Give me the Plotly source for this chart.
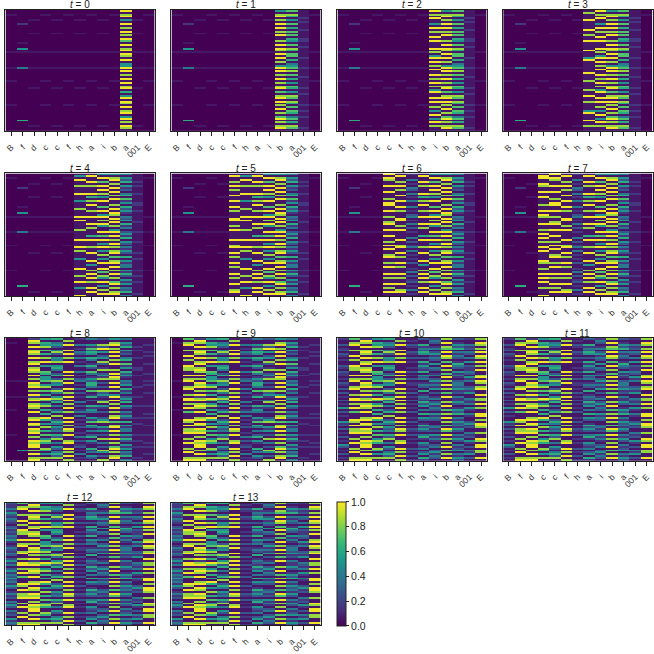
import plotly.graph_objects as go

ROWS = 64
X_LABELS = ["B", "f", "d", "c", "c", "f", "h", "a", "i", "b", "a", "001", "E"]
TIMES = list(range(14))
# digit code -> value in [0, 1]
LEVELS = [0.0, 0.06, 0.16, 0.27, 0.40, 0.52, 0.62, 0.72, 0.84, 0.98]

# ---- column patterns (one char per row, top to bottom) ----
BG_A = "00100000" "00000000" "00000010" "00000010" "00000100" "00000000" "00100000" "00000000"
BG_B = "00000100" "00001000" "00000010" "00000010" "00000000" "01000000" "00000000" "00000100"
F_EARLY = "00000002" "00000000" "01005010" "00000040" "00000000" "00000000" "00000000" "00600000"
F_LATE = "00000000" "00000000" "00000010" "00000010" "00000000" "00000000" "00000000" "00500000"

A0 = "91891519" "18191819" "71918919" "81915591" "91819191" "89161591" "98191891" "59181981"
A1 = "71861517" "16171716" "51718617" "71614571" "81716151" "76151871" "86171761" "47161871"
B1 = "51891819" "19181911" "81919819" "19181591" "91819181" "89171891" "91819181" "79181891"
I1 = "91819115" "19181191" "91119181" "59191819" "11918191" "81591191" "91181519" "15191811"
A7_1 = "18111911" "11911811" "91111911" "15911111" "19111811" "11811911" "81111591" "11911811"
H1 = "15191181" "11911151" "11811191" "91111811" "11911191" "81115111" "19111811" "91151119"
A7_2 = "19119181" "11916181" "91181191" "11918111" "61911181" "19111915" "11819191" "81191911"
I2 = "51917191" "91815191" "17191591" "81951191" "71915191" "51815191" "19171851" "91518191"
A2 = "41536152" "31461725" "16352143" "51624135" "26153142" "53161524" "41526315" "25143614"
F5_1 = "19118191" "81191191" "19181119" "91181911" "11911891" "19181191" "81119181" "19118911"
C4_1 = "91981191" "19111819" "91191181" "18911911" "91181919" "11891181" "91119181" "19181911"
H2 = "21141214" "31412141" "14121341" "21413121" "14131241" "41212131" "12141312" "31214121"
C3_1 = "19911981" "19119111" "81191981" "11911819" "19181191" "91111981" "18119191" "91181119"
D2 = "29819189" "81918918" "98191819" "89181928" "91898191" "18919819" "89181989" "91819189"
C3_2 = "51658171" "61819151" "17615571" "58171619" "71581616" "19615181" "61715861" "18615181"
C4_2 = "61453148" "31548156" "41361384" "51384158" "36141361" "81364153" "41638141" "53146381"
F5_2 = "18191191" "91819111" "19191819" "11918191" "91819181" "19191819" "81911891" "19181918"
A7_2b = "41152736" "51641263" "17412536" "64171261" "31162541" "15271641" "41361521" "16241531"
I2b = "31183915" "13518312" "81352813" "13183521" "38152131" "13581152" "51318141" "31851318"
O1 = "11112121" "11211112" "21121111" "12111121" "11121111" "12112111" "11211211" "21111121"
E_FAINT = "11121112" "12111211" "11211121" "21112111" "11121112" "12111211" "11211121" "21112111"
F1 = "71891181" "19181198" "81191891" "18911819" "91819171" "11981918" "89118191" "18191189"
B0 = "21131231" "32121132" "13221213" "21313121" "31215131" "21152313" "12131215" "31213121"
B0b = "32242532" "43213423" "24352124" "32431352" "41352435" "34253124" "23142531" "42315243"
H3 = "12132113" "21312112" "13121312" "21213121" "31212131" "12131213" "21312121" "13121312"
A7_3 = "31162436" "51316253" "26153412" "43161243" "26351416" "15312635" "31462153" "24135162"
I3 = "24312413" "52431514" "31241352" "42513124" "13524315" "24311342" "31524213" "41352431"
B3 = "81918719" "19817191" "81719181" "91817191" "18191718" "19181719" "71918181" "91718191"
A3 = "31253614" "24312643" "15242134" "43523142" "25312536" "14253425" "31425314" "23514253"
O2 = "21142314" "31415132" "24315241" "13425114" "32415214" "21135231" "14231521" "31425131"
E2 = "81981819" "19819181" "91189198" "18911918" "81918119" "91819981" "18119819" "91881191"

# ---- panels: 13 column patterns each ----
PANEL_T0 = [BG_A, F_EARLY, BG_B, BG_A, BG_B, BG_A, BG_B, BG_A, BG_B, BG_A, A0, BG_B, BG_A]
PANEL_T1 = [BG_A, F_EARLY, BG_B, BG_A, BG_B, BG_A, BG_B, BG_A, BG_B, B1, A1, O1, BG_A]
PANEL_T2 = [BG_A, F_EARLY, BG_B, BG_A, BG_B, BG_A, BG_B, BG_A, I1, B1, A1, O1, BG_A]
PANEL_T3 = [BG_A, F_EARLY, BG_B, BG_A, BG_B, BG_A, BG_B, A7_1, I1, B1, A1, O1, BG_A]
PANEL_T4 = [BG_A, F_EARLY, BG_B, BG_A, BG_B, BG_A, H1, A7_2, I2, B1, A2, O1, BG_A]
PANEL_T5 = [BG_A, F_EARLY, BG_B, BG_A, BG_B, F5_1, H1, A7_2, I2, B1, A2, O1, BG_A]
PANEL_T6 = [BG_A, F_EARLY, BG_B, BG_A, C4_1, F5_1, H2, A7_2, I2, B1, A2, O1, BG_A]
PANEL_T7 = [BG_A, F_EARLY, BG_B, C3_1, C4_1, F5_1, H2, A7_2, I2, B1, A2, O1, BG_A]
PANEL_T8 = [BG_A, F_LATE, D2, C3_2, C4_2, F5_2, H2, A7_2b, I2b, B1, A2, O1, E_FAINT]
PANEL_T9 = [BG_A, F1, D2, C3_2, C4_2, F5_2, H2, A7_2b, I2b, B1, A2, O1, E_FAINT]
PANEL_T10 = [B0, F1, D2, C3_2, C4_2, F5_2, H3, A7_3, I3, B3, A3, O2, E2]
PANEL_T11 = [B0, F1, D2, C3_2, C4_2, F5_2, H3, A7_3, I3, B3, A3, O2, E2]
PANEL_T12 = [B0b, F1, D2, C3_2, C4_2, F5_2, H3, A7_3, I3, B3, A3, O2, E2]
PANEL_T13 = [B0b, F1, D2, C3_2, C4_2, F5_2, H3, A7_3, I3, B3, A3, O2, E2]

PANELS = [PANEL_T0, PANEL_T1, PANEL_T2, PANEL_T3, PANEL_T4, PANEL_T5, PANEL_T6,
          PANEL_T7, PANEL_T8, PANEL_T9, PANEL_T10, PANEL_T11, PANEL_T12, PANEL_T13]


def decode(col):
    col = (col + "0" * ROWS)[:ROWS]
    return [LEVELS[int(ch)] for ch in col]


def panel_matrix(cols):
    dec = [decode(c) for c in cols]
    return [[dec[c][r] for c in range(len(cols))] for r in range(ROWS)]


W = H = 654
COL_LEFT = [4.5, 170.7, 337.0, 503.0]
PANEL_W = 149.5
ROW_TOP = [10.0, 175.3, 341.7, 508.0]
PANEL_H = [122.5, 124.0, 124.0, 124.0]
FONT = "Liberation Sans, Arial, sans-serif"

fig = go.Figure()
annotations = []
layout_axes = {}

for i, t in enumerate(TIMES):
    r, c = divmod(i, 4)
    x0 = COL_LEFT[c] / W
    x1 = (COL_LEFT[c] + PANEL_W) / W
    ytop = ROW_TOP[r]
    ybot = ROW_TOP[r] + PANEL_H[r]
    y0 = 1 - ybot / H
    y1 = 1 - ytop / H
    n = i + 1
    xa = "x" if n == 1 else f"x{n}"
    ya = "y" if n == 1 else f"y{n}"
    xkey = "xaxis" if n == 1 else f"xaxis{n}"
    ykey = "yaxis" if n == 1 else f"yaxis{n}"

    tr = go.Heatmap(
        z=panel_matrix(PANELS[i]),
        x=list(range(len(X_LABELS))),
        y=list(range(ROWS)),
        colorscale="Viridis",
        zmin=0, zmax=1,
        zsmooth=False,
        showscale=(i == 0),
        xaxis=xa, yaxis=ya,
        hoverinfo="skip",
    )
    if i == 0:
        tr.colorbar = dict(
            x=337 / W, xanchor="left",
            y=1 - (508 + 632) / 2 / H, yanchor="middle",
            len=124, lenmode="pixels",
            thickness=8.5, thicknessmode="pixels",
            outlinewidth=1, outlinecolor="#222",
            tickvals=[0, 0.2, 0.4, 0.6, 0.8, 1.0],
            ticktext=["0.0", "0.2", "0.4", "0.6", "0.8", "1.0"],
            ticks="outside", ticklen=3, tickwidth=1, tickcolor="#222",
            tickfont=dict(family=FONT, size=10.5, color="#222"),
            xpad=0, ypad=0,
        )
    fig.add_trace(tr)

    layout_axes[xkey] = dict(
        domain=[x0, x1], anchor=ya,
        range=[-0.5, len(X_LABELS) - 0.5],
        tickmode="array", tickvals=list(range(len(X_LABELS))), ticktext=X_LABELS,
        tickangle=-45,
        ticks="outside", ticklen=4, tickwidth=1, tickcolor="#222",
        tickfont=dict(family=FONT, size=8.5, color="#333"),
        ticklabelstandoff=3,
        showline=True, mirror=True, linecolor="#222", linewidth=1,
        showgrid=False, zeroline=False, fixedrange=True,
    )
    layout_axes[ykey] = dict(
        domain=[y0, y1], anchor=xa,
        range=[ROWS - 0.5, -0.5],
        showticklabels=False, ticks="",
        showline=True, mirror=True, linecolor="#222", linewidth=1,
        showgrid=False, zeroline=False, fixedrange=True,
    )
    annotations.append(dict(
        text=f"<i>t</i> = {t}",
        xref="paper", yref="paper",
        x=(x0 + x1) / 2, y=1 - (ytop - 5.0) / H,
        xanchor="center", yanchor="middle",
        showarrow=False, borderpad=0,
        font=dict(family=FONT, size=10, color="#222"),
    ))

fig.update_layout(
    width=W, height=H,
    margin=dict(l=0, r=0, t=0, b=0),
    paper_bgcolor="white", plot_bgcolor="white",
    showlegend=False,
    annotations=annotations,
    **layout_axes,
)

fig.write_html("out.html", config={"displayModeBar": False},
               post_script="document.body.style.margin='0';")
